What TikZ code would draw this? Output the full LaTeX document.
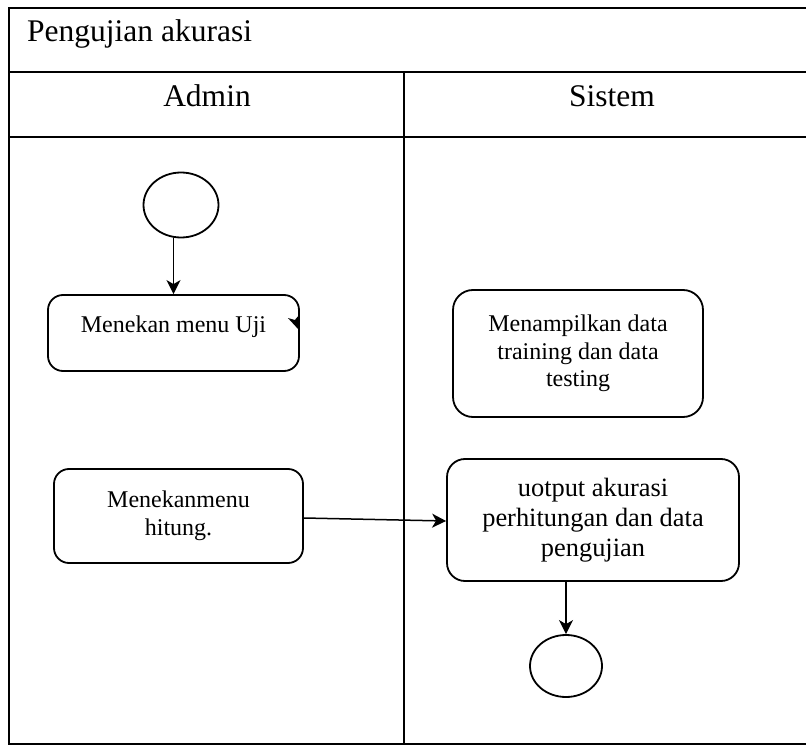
\documentclass[tikz,border=0pt]{standalone}
\usepackage{fontspec}
\setmainfont{Liberation Serif}
\usetikzlibrary{shapes.geometric,arrows.meta}

\tikzset{
  frame/.style={line width=2pt},
  actbox/.style={draw, line width=1.8pt, rounded corners=15pt, align=center,
    font=\fontsize{24}{27.6}\selectfont, inner sep=0pt},
  state/.style={draw, ellipse, line width=1.8pt, inner sep=0pt},
  flow/.style={line width=1.5pt, -{Stealth[length=14pt,width=14pt,inset=4pt]}},
  headtext/.style={font=\fontsize{31.5}{36}\selectfont, inner sep=0pt}
}

\begin{document}
\begin{tikzpicture}[x=1pt,y=-1pt]
  \useasboundingbox (0,0) rectangle (806,746);

  % swimlane frame
  \draw[frame] (806,8) -- (9,8) -- (9,744) -- (806,744);
  \draw[frame] (9,72) -- (806,72);
  \draw[frame] (9,137) -- (806,137);
  \draw[frame] (404,72) -- (404,744);

  % titles
  \node[headtext, anchor=base west] (title) at (27,42) {Pengujian akurasi};
  \node[headtext, anchor=base] (laneA) at (207,107) {Admin};
  \node[headtext, anchor=base] (laneS) at (612,107) {Sistem};

  % activities
  \node[state, minimum width=75pt, minimum height=65pt] (start) at (181,205) {};
  \node[actbox, minimum width=251pt, minimum height=76pt, text height=16pt, text depth=18pt]
    (b1) at (173.5,333) {Menekan menu Uji};
  \node[actbox, rounded corners=20pt, minimum width=250pt, minimum height=127pt]
    (b2) at (578,353.5) {Menampilkan data\\training dan data\\testing};
  \node[actbox, minimum width=249pt, minimum height=94pt]
    (b4) at (178.5,516) {Menekanmenu\\hitung.};
  \node[actbox, rounded corners=18pt, minimum width=292pt, minimum height=122pt,
    font=\fontsize{26.4}{30}\selectfont]
    (b3) at (593,520) {uotput akurasi\\perhitungan dan data\\pengujian};
  \node[state, minimum width=72pt, minimum height=62pt] (end) at (566,666) {};

  % flows
  \draw[flow] (start.south -| b1.north) -- (b1.north);
  \draw[flow] ([yshift=-2pt]b4.east) -- ([yshift=-1pt]b3.west);
  \draw[flow] (end.north |- b3.south) -- (end.north);

  % small arrow tip on the right edge of the first activity
  \fill[shift={(b1.east)}] (0,-2) -- (-12,-15) -- (-5,-13) -- (0,-19) -- cycle;
\end{tikzpicture}
\end{document}
